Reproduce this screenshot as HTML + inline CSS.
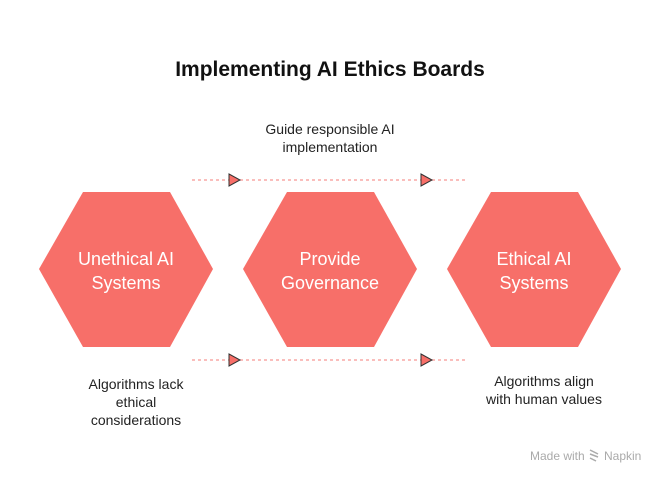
<!DOCTYPE html>
<html><head><style>
body{margin:0;background:#fff;width:660px;height:480px;overflow:hidden;font-family:"Liberation Sans",sans-serif}
</style></head><body>
<svg width="660" height="480" xmlns="http://www.w3.org/2000/svg" font-family="Liberation Sans, sans-serif">
<text x="330" y="76" text-anchor="middle" font-size="21" font-weight="bold" fill="#111">Implementing AI Ethics Boards</text>
<g fill="#f76f69">
<polygon points="83,192 170,192 213,269 170,347 83,347 39,269"/>
<polygon points="287,192 374,192 417,269 374,347 287,347 243,269"/>
<polygon points="491,192 578,192 621,269 578,347 491,347 447,269"/>
</g>
<g fill="#fff" font-size="18" text-anchor="middle">
<text x="126" y="265">Unethical AI</text><text x="126" y="289">Systems</text>
<text x="330" y="265">Provide</text><text x="330" y="289">Governance</text>
<text x="534" y="265">Ethical AI</text><text x="534" y="289">Systems</text>
</g>
<g stroke="#f9a9a5" stroke-width="1.5" stroke-dasharray="3,3">
<line x1="192" y1="180" x2="468" y2="180"/>
<line x1="192" y1="360" x2="468" y2="360"/>
</g>
<g fill="#f76f69" stroke="#333" stroke-width="1">
<polygon points="229,174 240,180 229,186"/>
<polygon points="421,174 432,180 421,186"/>
<polygon points="229,354 240,360 229,366"/>
<polygon points="421,354 432,360 421,366"/>
</g>
<g fill="#222" font-size="14" text-anchor="middle">
<text x="330" y="134">Guide responsible AI</text><text x="330" y="152">implementation</text>
<text x="136" y="389">Algorithms lack</text><text x="136" y="407">ethical</text><text x="136" y="425">considerations</text>
<text x="544" y="386">Algorithms align</text><text x="544" y="404">with human values</text>
</g>
<text x="530" y="460" font-size="12" fill="#aaa">Made with</text>
<text x="604" y="460" font-size="12" fill="#aaa">Napkin</text>
<g stroke="#aaa" stroke-width="1.5"><line x1="590" y1="450" x2="598" y2="454"/><line x1="590" y1="454" x2="598" y2="457"/><line x1="590" y1="458" x2="596" y2="461"/></g>
</svg>
</body></html>
